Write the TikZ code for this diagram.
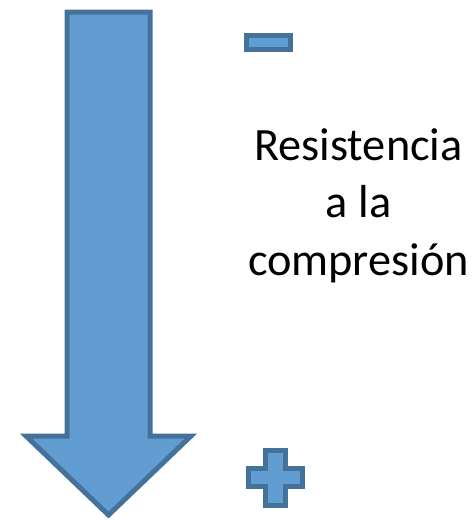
\documentclass[tikz,border=0pt]{standalone}
\usepackage{fontspec}
\setmainfont{Carlito}
\definecolor{arrowfill}{RGB}{98,157,210}
\definecolor{arrowline}{RGB}{69,114,155}
\tikzset{
        blueshape/.style={fill=arrowfill, draw=arrowline, line width=5pt, miter limit=10},
        label/.style={align=center, inner sep=0pt, font=\fontsize{46.3}{57.5}\selectfont}
}
\begin{document}
\begin{tikzpicture}[x=1pt, y=-1pt]
        \useasboundingbox (0, 0) rectangle (476, 520);
        \draw[blueshape] (67, 12) -- (150, 12) -- (150, 436) -- (191, 436)
            -- (108.5, 515) -- (26, 436) -- (67, 436) -- cycle;
        \draw[blueshape] (246, 35) rectangle (290, 49);
        \draw[blueshape] (265, 450) -- (285, 450) -- (285, 468) -- (302, 468)
            -- (302, 486) -- (285, 486) -- (285, 505) -- (265, 505) -- (265, 486)
            -- (248, 486) -- (248, 468) -- (265, 468) -- cycle;
        \node[label, anchor=base] (txt) at (358.5, 275) {Resistencia\\a la\\compresión};
\end{tikzpicture}
\end{document}
